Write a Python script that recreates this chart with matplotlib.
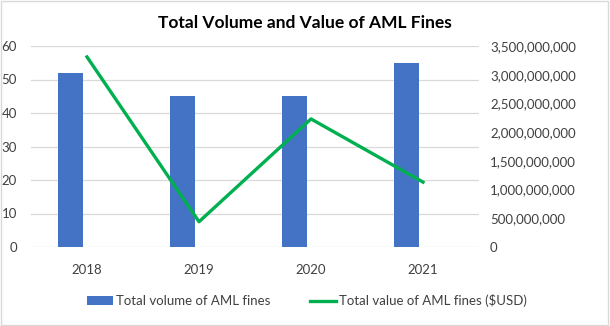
import matplotlib.pyplot as plt
import numpy as np
from matplotlib.patches import Rectangle
from matplotlib.ticker import FuncFormatter

years = ["2018", "2019", "2020", "2021"]
fine_volume = [52, 45, 45, 55]
fine_value_usd = [3.31e9, 0.44e9, 2.23e9, 1.13e9]

plt.rcParams["font.family"] = ["Lato", "DejaVu Sans"]

fig = plt.figure(figsize=(6.1, 3.26), dpi=100)
ax = fig.add_axes([31 / 610, 79 / 326, 448 / 610, 201 / 326])
ax2 = ax.twinx()

x = np.arange(len(years))
# bars sit left of the category centre, the line is on it
bars = ax.bar(x - 0.147, fine_volume, width=0.225, color="#4472C4", zorder=2,
              label="Total volume of AML fines")
line, = ax2.plot(x, fine_value_usd, color="#00B050", linewidth=2.4,
                 label="Total value of AML fines ($USD)", zorder=3)

ax.set_xlim(-0.5, 3.5)
ax.set_ylim(0, 60)
ax.set_yticks(range(0, 61, 10))
ax2.set_ylim(0, 3.5e9)
ax2.set_yticks(np.arange(0, 3.5e9 + 1, 5e8))
ax2.yaxis.set_major_formatter(FuncFormatter(lambda v, p: f"{v:,.0f}"))
ax.set_xticks(x)
ax.set_xticklabels(years)

ax.grid(axis="y", color="#d9d9d9", linewidth=0.9, zorder=0)
ax.set_axisbelow(True)
for a in (ax, ax2):
    for s in a.spines.values():
        s.set_visible(False)
    a.tick_params(length=0, labelsize=9.5, colors="#404040")
ax.tick_params(axis="y", pad=10)
ax.tick_params(axis="x", pad=12)
ax2.tick_params(axis="y", pad=8)
ax.set_zorder(ax2.get_zorder() - 1)
ax.patch.set_visible(False)

fig.text(0.5, 0.928, "Total Volume and Value of AML Fines", ha="center", va="center",
         fontsize=12.5, fontweight="bold", color="black")

fig.legend(handles=[bars, line], loc="center", bbox_to_anchor=(0.503, 0.077), ncol=2,
           frameon=False, fontsize=9.5, handlelength=2.0, handletextpad=0.2,
           columnspacing=3.0, labelcolor="#404040")

fig.patches.append(Rectangle((0.002, 0.003), 0.995, 0.993, transform=fig.transFigure,
                             fill=False, edgecolor="#d9d9d9", linewidth=1))

fig.savefig("out.png", dpi=100)
